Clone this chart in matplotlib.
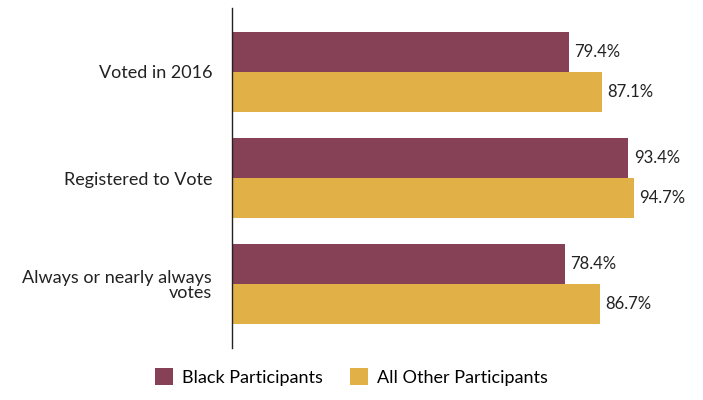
import matplotlib as mpl
mpl.use("Agg")
import matplotlib.pyplot as plt
import numpy as np

categories = ["Voted in 2016", "Registered to Vote", "Always or nearly always\nvotes"]
black = [79.4, 93.4, 78.4]
other = [87.1, 94.7, 86.7]
series_names = ["Black Participants", "All Other Participants"]

plt.rcParams["font.family"] = ["Lato", "DejaVu Sans"]

fig = plt.figure(figsize=(7.03, 4.0), dpi=100)
ax = fig.add_axes([231.5 / 703, 52 / 400, 425 / 703, 340 / 400])

y = np.arange(len(categories))
h = 0.375
colors = ["#874157", "#E1B046"]

for vals, off, col, name in zip([black, other], [-h / 2, h / 2], colors, series_names):
    bars = ax.barh(y + off, vals, height=h, color=col, label=name)
    for b, v in zip(bars, vals):
        ax.text(v + 1.3, b.get_y() + b.get_height() / 2, f"{v:.1f}%",
                va="center", ha="left", fontsize=12, color="#222222")

ax.set_xlim(0, 100)
ax.set_ylim(len(categories) - 0.4, -0.6)
ax.set_yticks(y)
ax.set_yticklabels(categories, fontsize=13, color="#222222", linespacing=0.95)
ax.tick_params(axis="y", length=0, pad=14)
ax.set_xticks([])
for s in ["top", "right", "bottom"]:
    ax.spines[s].set_visible(False)
ax.spines["left"].set_color("#222222")
ax.spines["left"].set_linewidth(1.0)

fig.legend(loc="lower center", bbox_to_anchor=(0.5, -0.005), ncol=2, frameon=False,
           fontsize=13, handlelength=1.0, handleheight=1.0, columnspacing=1.5,
           handletextpad=0.5)

fig.savefig("out.png", dpi=100)
plt.close(fig)
